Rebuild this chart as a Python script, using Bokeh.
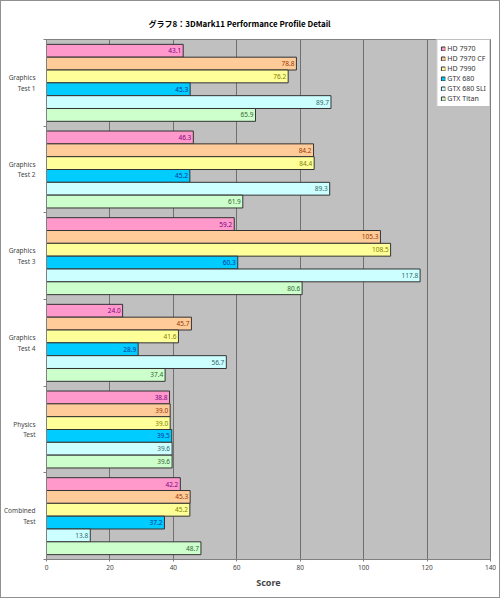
from bokeh.plotting import figure
from bokeh.models import ColumnDataSource, FixedTicker, Range1d, Legend, LegendItem, Title
from bokeh.core.properties import value
from bokeh.embed import file_html
from bokeh.resources import INLINE

title_text = "グラフ8：3DMark11 Performance Profile Detail"
tests = ["Graphics\nTest 1", "Graphics\nTest 2", "Graphics\nTest 3", "Graphics\nTest 4", "Physics\nTest", "Combined\nTest"]
series = ["HD 7970", "HD 7970 CF", "HD 7990", "GTX 680", "GTX 680 SLI", "GTX Titan"]
hd7970 = [43.1, 46.3, 59.2, 24.0, 38.8, 42.2]
hd7970cf = [78.8, 84.2, 105.3, 45.7, 39.0, 45.3]
hd7990 = [76.2, 84.4, 108.5, 41.6, 39.0, 45.2]
gtx680 = [45.3, 45.2, 60.3, 28.9, 39.5, 37.2]
gtx680sli = [89.7, 89.3, 117.8, 56.7, 39.6, 13.8]
titan = [65.9, 61.9, 80.6, 37.4, 39.6, 48.7]
values_all = [hd7970, hd7970cf, hd7990, gtx680, gtx680sli, titan]
x_ticks = [0, 20, 40, 60, 80, 100, 120, 140]

fills = ["#FF99CC", "#FFCC99", "#FFFF99", "#00CCFF", "#CCFFFF", "#CCFFCC"]
txtc = ["#800080", "#993300", "#808000", "#003399", "#336666", "#336633"]

TFONT = "Noto Sans CJK JP"
FONT = "Noto Sans"

p = figure(width=500, height=598, output_backend="svg", toolbar_location=None,
           x_range=Range1d(0, 140), y_range=Range1d(6, 0),
           min_border_left=45, min_border_right=11, min_border_top=38, min_border_bottom=40,
           background_fill_color="#C0C0C0", border_fill_color="white")
p.styles = {"border": "1px solid #909090", "box-sizing": "border-box"}
p.outline_line_color = "#808080"
p.outline_line_width = 1

p.title = Title(text=title_text, text_font=TFONT, text_font_size="8px", text_font_style="bold",
                align="left", offset=102, standoff=21, text_color="#000000")

p.xgrid.ticker = FixedTicker(ticks=x_ticks)
p.xgrid.grid_line_color = "#707070"
p.xgrid.grid_line_width = 1
p.ygrid.grid_line_color = None

bar_h = 0.148
items = []
for s, vals in enumerate(values_all):
    ys = [g + 0.5 + (s - 2.5) * bar_h for g in range(len(tests))]
    src = ColumnDataSource(dict(y=ys, right=vals, lab=["%.1f" % v for v in vals]))
    r = p.hbar(y="y", left=0, right="right", height=bar_h, source=src,
               fill_color=fills[s], line_color="#333333", line_width=1)
    p.text(x="right", y="y", text="lab", source=src, text_align="right", text_baseline="middle",
           x_offset=-2, text_font=value(FONT), text_font_size="6.5px", text_color=txtc[s])
    items.append(LegendItem(label=series[s], renderers=[r]))

legend = Legend(items=items, location="top_right", label_text_font=FONT, label_text_font_size="7px",
                glyph_width=5, glyph_height=5, label_height=10, spacing=0, padding=3, margin=0,
                label_standoff=2, border_line_color="#808080", background_fill_color="white",
                background_fill_alpha=1, label_text_color="#333333")
p.add_layout(legend)

p.xaxis.ticker = FixedTicker(ticks=x_ticks)
p.xaxis.axis_label = "Score"
p.xaxis.axis_label_text_font = FONT
p.xaxis.axis_label_text_font_style = "bold"
p.xaxis.axis_label_text_font_size = "9px"
p.xaxis.axis_label_standoff = 3
p.xaxis.major_label_text_font = FONT
p.xaxis.major_label_text_font_size = "6.5px"
p.xaxis.major_label_standoff = 3
p.xaxis.major_tick_in = 0
p.xaxis.major_tick_out = 2
p.xaxis.minor_tick_line_color = None
p.xaxis.axis_line_color = "#808080"
p.xaxis.major_tick_line_color = "#808080"

p.yaxis.ticker = FixedTicker(ticks=[g + 0.5 for g in range(len(tests))], minor_ticks=list(range(len(tests) + 1)))
p.yaxis.major_label_overrides = {g + 0.5: t for g, t in enumerate(tests)}
p.yaxis.major_label_text_font = FONT
p.yaxis.major_label_text_font_size = "6.5px"
p.yaxis.major_label_text_align = "center"
p.yaxis.major_label_text_line_height = 1.15
p.yaxis.major_label_standoff = 8
p.yaxis.major_tick_in = 0
p.yaxis.major_tick_out = 0
p.yaxis.minor_tick_in = 0
p.yaxis.minor_tick_out = 3
p.yaxis.minor_tick_line_color = "#808080"
p.yaxis.axis_line_color = "#808080"

open("out.html", "w").write(file_html(p, INLINE))
